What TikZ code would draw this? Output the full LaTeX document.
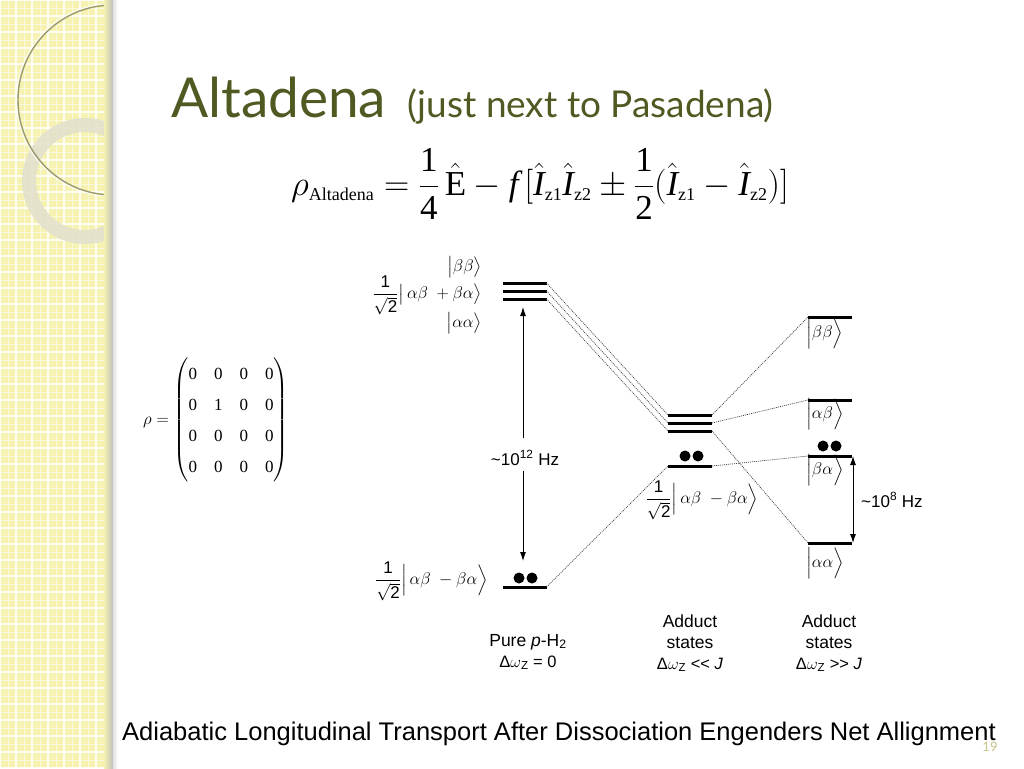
\RequirePackage{fix-cm}
\documentclass[tikz,border=0pt]{standalone}
\usepackage{amsmath}
\usepackage{fontspec}
\setmainfont{Liberation Serif}
\setsansfont{Liberation Sans}
\newfontfamily\titlefont{Lato}
\usetikzlibrary{arrows.meta}
\definecolor{titlegreen}{HTML}{4E5A22}
\definecolor{panelyellow}{HTML}{F5F2B2}
\definecolor{ringgray}{HTML}{E2E0CC}
\definecolor{circgray}{HTML}{9C9A6E}
\definecolor{pagenum}{HTML}{C8C488}
\newcommand{\sub}[1]{\text{\fontsize{18}{20}\selectfont\rmfamily #1}}
\newcommand{\rmt}[1]{\text{\rmfamily #1}}
\begin{document}
\begin{tikzpicture}[x=1pt,y=-1pt,
  lvl/.style={fill=black, minimum width=44pt, minimum height=3pt, inner sep=0pt, outer sep=0pt},
  dotted link/.style={draw=black!75, line width=0.7pt, dash pattern=on 1pt off 1pt},
  arr/.style={line width=0.9pt, -{Latex[length=9pt,width=6pt]}},
  dbl/.style={line width=0.9pt, {Latex[length=9pt,width=6pt]}-{Latex[length=9pt,width=6pt]}},
  ket/.style={font=\sffamily\fontsize{17}{19}\selectfont, inner sep=0pt},
  hz/.style={font=\sffamily\fontsize{17}{19}\selectfont, inner sep=0pt},
  colcaption/.style={font=\sffamily\fontsize{17.5}{21}\selectfont, align=center, inner sep=0pt},
  electron/.style={fill=black}]
% canvas
\useasboundingbox (0,0) rectangle (1024,768);
\fill[white] (0,0) rectangle (1024,768);
% left decorative panel
\begin{scope}
  \clip (0,0) rectangle (113,768);
  \fill[panelyellow] (0,0) rectangle (113,768);
  \foreach \x in {8,24,...,120} \draw[white, line width=0.5pt, opacity=0.5] (\x,0) -- (\x,768);
  \foreach \y in {8,24,...,776} \draw[white, line width=0.5pt, opacity=0.5] (0,\y) -- (113,\y);
  \foreach \x in {0,16,...,112} \draw[white, line width=1.2pt, opacity=0.85] (\x,0) -- (\x,768);
  \foreach \y in {0,16,...,768} \draw[white, line width=1.2pt, opacity=0.85] (0,\y) -- (113,\y);
  \fill[ringgray, opacity=0.85, even odd rule] (85,181) circle[radius=63] (85,181) circle[radius=49];
  \draw[white, line width=1.2pt, opacity=0.8] (113,100) circle[radius=96.5];
  \draw[circgray, line width=1.4pt] (113,100) circle[radius=95];
  \shade[left color=panelyellow, right color=black!25] (104,0) rectangle (113,768);
\end{scope}
\shade[left color=black!12, right color=white] (113,0) rectangle (118,768);
% title
\node[anchor=base west, inner sep=0pt, text=titlegreen, font=\titlefont\fontsize{55}{60}\selectfont] (title) at (171,117) {Altadena};
\node[anchor=base west, inner sep=0pt, text=titlegreen, font=\titlefont\fontsize{37}{40}\selectfont] (subtitle) at (407,117) {(just next to Pasadena)};
% equation
\node[inner sep=0pt, font=\rmfamily\fontsize{35}{40}\selectfont] (eq) at (540,184)
  {$\rho_{\sub{Altadena}} = \dfrac{\rmt{1}}{\rmt{4}}\,\hat{\rmt{E}} - \textit{f}\,[\hat{\textit{I}}_{\sub{z1}}\hat{\textit{I}}_{\sub{z2}} \pm \dfrac{\rmt{1}}{\rmt{2}}(\hat{\textit{I}}_{\sub{z1}} - \hat{\textit{I}}_{\sub{z2}})]$};
% density matrix
\node[inner sep=0pt, font=\rmfamily\fontsize{17}{20}\selectfont] (rho) at (216,420)
  {\renewcommand{\arraystretch}{1.55}\setlength{\arraycolsep}{8.5pt}%
   $\rho = \begin{pmatrix}\rmt{0}&\rmt{0}&\rmt{0}&\rmt{0}\\\rmt{0}&\rmt{1}&\rmt{0}&\rmt{0}\\\rmt{0}&\rmt{0}&\rmt{0}&\rmt{0}\\\rmt{0}&\rmt{0}&\rmt{0}&\rmt{0}\end{pmatrix}$};
% ---- energy levels ----
% pure p-H2
\node[lvl] (Lbb) at (524.5,283) {};
\node[lvl] (Lab) at (524.5,291) {};
\node[lvl] (Laa) at (524.5,299) {};
\node[lvl] (Ls)  at (524.5,587) {};
% adduct, weak
\node[lvl] (Mbb) at (690,415) {};
\node[lvl] (Mab) at (690,423) {};
\node[lvl] (Maa) at (690,431) {};
\node[lvl] (Ms)  at (690,466) {};
% adduct, strong
\node[lvl] (Rbb) at (830,317) {};
\node[lvl] (Rab) at (830,400) {};
\node[lvl] (Rba) at (830,456) {};
\node[lvl] (Raa) at (830,543) {};
% electrons (populations)
\fill[electron] (519,578) circle[radius=5.5] (532,578) circle[radius=5.5];
\fill[electron] (685,456) circle[radius=5.5] (698,456) circle[radius=5.5];
\fill[electron] (823,446) circle[radius=5.5] (836,446) circle[radius=5.5];
% correlation lines
\draw[dotted link] (Lbb.east) -- (Mbb.west);
\draw[dotted link] (Lab.east) -- (Mab.west);
\draw[dotted link] (Laa.east) -- (Maa.west);
\draw[dotted link] (Ls.east) -- (Ms.west);
\draw[dotted link] (Mbb.east) -- (Rbb.west);
\draw[dotted link] (Mab.east) -- (Rab.west);
\draw[dotted link] (Maa.east) -- (Raa.west);
\draw[dotted link] (Ms.east) -- (Rba.west);
% frequency arrows
\node[hz] (hz12) at (525,458) {\textasciitilde10\textsuperscript{12} Hz};
\coordinate (t12a) at (523,307);
\coordinate (t12b) at (523,561);
\draw[arr] (hz12.north -| t12a) ++(0,-12) -- (t12a);
\draw[arr] (hz12.south -| t12b) ++(0,5) -- (t12b);
\draw[dbl] ([xshift=1pt]Rba.east) -- ([xshift=1pt]Raa.east);
\node[hz, anchor=west] (hz8) at (861,500) {\textasciitilde10\textsuperscript{8} Hz};
% state labels
\node[ket, anchor=east] (kLbb) at (482,267) {$\bigl|\beta\beta\bigr\rangle$};
\node[ket, anchor=east] (kLab) at (482,295) {$\dfrac{\mathsf{1}}{\sqrt{\mathsf{2}}}\bigl|\,\alpha\beta\ +\beta\alpha\bigr\rangle$};
\node[ket, anchor=east] (kLaa) at (482,323) {$\bigl|\alpha\alpha\bigr\rangle$};
\node[ket, anchor=east] (kLs)  at (488,581) {$\dfrac{\mathsf{1}}{\sqrt{\mathsf{2}}}\Bigl|\,\alpha\beta\ -\beta\alpha\Bigr\rangle$};
\node[ket] (kMs) at (702,500) {$\dfrac{\mathsf{1}}{\sqrt{\mathsf{2}}}\Bigl|\,\alpha\beta\ -\beta\alpha\Bigr\rangle$};
\node[ket, anchor=west] (kRbb) at (806,333) {$\Bigl|\beta\beta\Bigr\rangle$};
\node[ket, anchor=west] (kRab) at (806,414) {$\Bigl|\alpha\beta\Bigr\rangle$};
\node[ket, anchor=west] (kRba) at (806,470) {$\Bigl|\beta\alpha\Bigr\rangle$};
\node[ket, anchor=west] (kRaa) at (806,563) {$\Bigl|\alpha\alpha\Bigr\rangle$};
% column captions
\node[colcaption] (c1) at (528,652) {Pure \textit{p}-H\textsubscript{2}\\ \fontsize{16.5}{18}\selectfont Δ$\omega$\textsubscript{Z} = 0};
\node[colcaption] (c2) at (690,643) {Adduct\\states\\ \fontsize{16.5}{18}\selectfont Δ$\omega$\textsubscript{Z} {<}{<} \textit{J}};
\node[colcaption] (c3) at (829,643) {Adduct\\states\\ \fontsize{16.5}{18}\selectfont Δ$\omega$\textsubscript{Z} {>}{>} \textit{J}};
% footer
\node[anchor=base west, inner sep=0pt, font=\sffamily\fontsize{25.5}{28}\selectfont] (footer) at (122,740)
  {Adiabatic Longitudinal Transport After Dissociation Engenders Net Allignment};
\node[anchor=base, inner sep=0pt, text=pagenum, font=\titlefont\fontsize{13}{15}\selectfont] (page) at (990,751) {19};
\end{tikzpicture}
\end{document}
